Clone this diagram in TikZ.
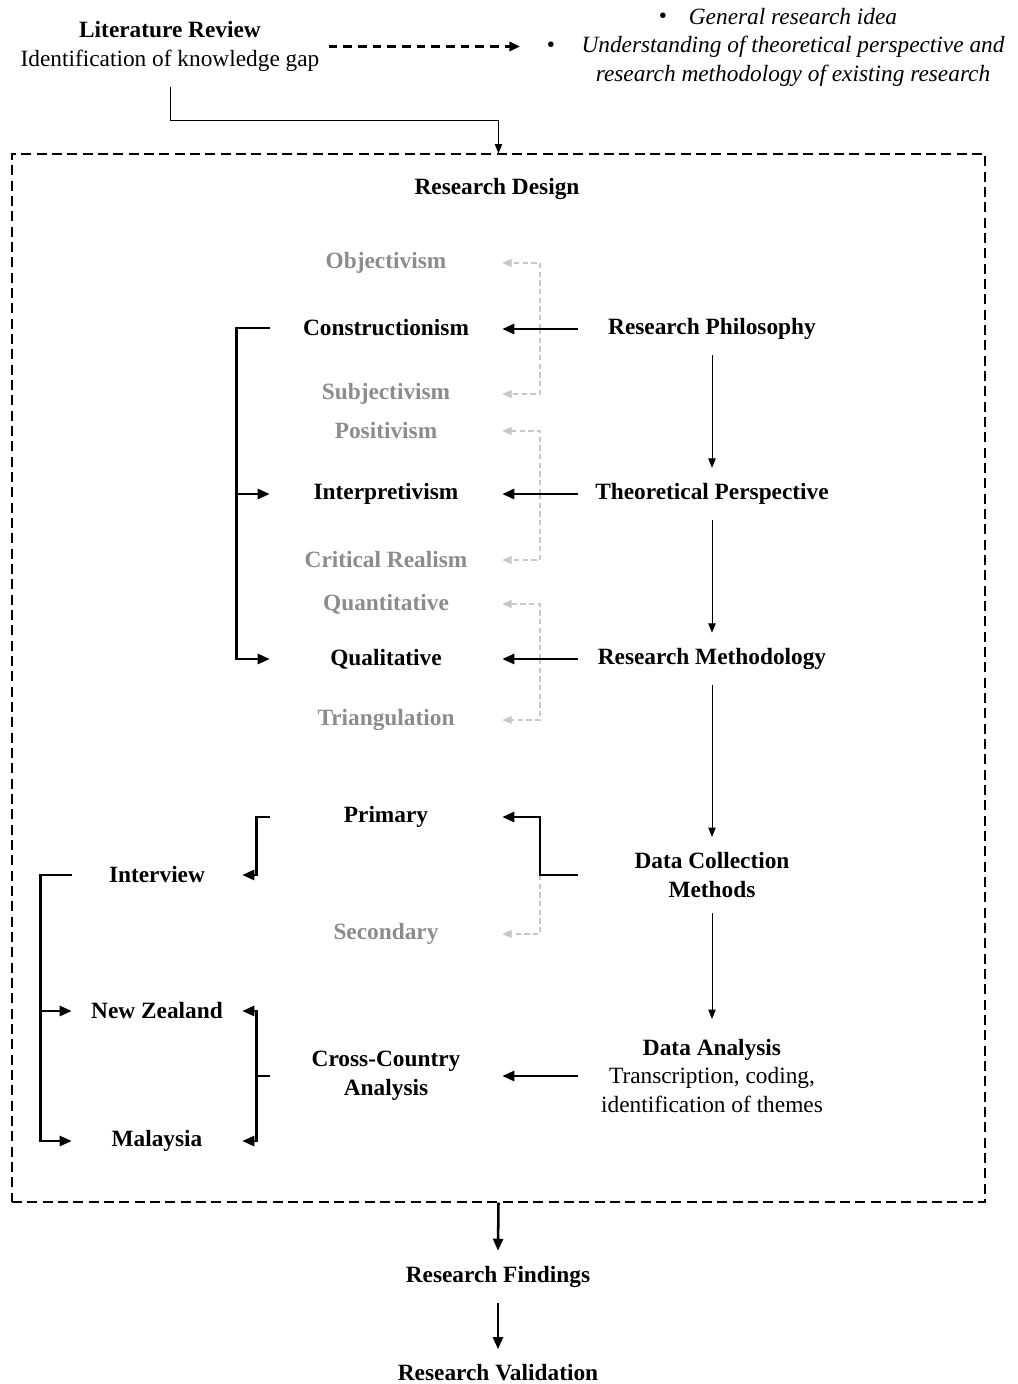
\documentclass[tikz,border=0pt]{standalone}
\usepackage{fontspec}
\setmainfont{Liberation Serif}
\usetikzlibrary{arrows.meta,calc}
\definecolor{fadetext}{RGB}{140,140,140}
\definecolor{fadeline}{RGB}{200,200,200}

\begin{document}
\begin{tikzpicture}[x=0.75pt,y=-0.75pt,
  txt/.style={font=\fontsize{17.5}{21.4}\selectfont, align=center, inner xsep=0pt, inner ysep=11.5pt},
  boldtxt/.style={txt, font=\fontsize{17.5}{21.4}\selectfont\bfseries},
  lcol/.style={boldtxt, minimum width=174pt},
  faded/.style={lcol, text=fadetext},
  rcol/.style={boldtxt, minimum width=201pt},
  side/.style={boldtxt, minimum width=127.5pt},
  thickarr/.style={line width=1.9pt, -{Triangle[length=9pt,width=7.5pt]}},
  thickline/.style={line width=1.9pt},
  thinarr/.style={line width=0.75pt, -{Triangle[length=7pt,width=5.5pt]}},
  fadearr/.style={draw=fadeline, line width=0.8pt, dash pattern=on 4pt off 2.5pt,
    -{Triangle[length=7pt,width=6pt,fill=fadeline]}},
]
\useasboundingbox (0,0) rectangle (1017,1384);

% literature review and its outcomes
\node[txt, inner xsep=6.75pt] (lit) at (170,46.5)
  {\textbf{Literature Review}\\Identification of knowledge gap};
\node[txt, font=\fontsize{17.5}{21.4}\selectfont\itshape, inner sep=0pt] (ideas) at (793,47)
  {General research idea\\Understanding of theoretical perspective and\\research methodology of existing research};
\node[txt, inner sep=0pt] (b1) at (663,18) {\textbullet};
\node[txt, inner sep=0pt] (b2) at (551,47) {\textbullet};

% research design frame
\node[draw, dash pattern=on 7.5pt off 4pt, line width=0.9pt, inner sep=0pt,
  minimum width=729.75pt, minimum height=786pt] (design) at (498.5,678) {};
\node[boldtxt] (title) at (497,189) {Research Design};

% main sequence
\node[rcol] (rp) at (712,329) {Research Philosophy};
\node[rcol] (tp) at (712,494) {Theoretical Perspective};
\node[rcol] (rm) at (712,659) {Research Methodology};
\node[rcol] (dcm) at (712,875) {Data Collection\\Methods};
\node[rcol] (da) at (712,1076) {Data Analysis\\\mdseries Transcription, coding,\\\mdseries identification of themes};

% options
\node[faded] (obj) at (386,263) {Objectivism};
\node[lcol] (cons) at (386,328) {Constructionism};
\node[faded] (subj) at (386,394) {Subjectivism};
\node[faded] (pos) at (386,431) {Positivism};
\node[lcol] (interp) at (386,494) {Interpretivism};
\node[faded] (crit) at (386,560) {Critical Realism};
\node[faded] (quant) at (386,604) {Quantitative};
\node[lcol] (qual) at (386,659) {Qualitative};
\node[faded] (tri) at (386,720) {Triangulation};
\node[lcol] (prim) at (386,817) {Primary};
\node[faded] (sec) at (386,934) {Secondary};
\node[lcol] (cc) at (386,1076) {Cross-Country\\Analysis};

\node[side] (int) at (157,875) {Interview};
\node[side] (nz) at (157,1011) {New Zealand};
\node[side] (mal) at (157,1141) {Malaysia};

\node[boldtxt] (find) at (498,1277) {Research Findings};
\node[boldtxt] (val) at (498,1373) {Research Validation};

% junction points
\coordinate (j1) at ($(rp.west)!0.5!(rp.west -| cons.east)$);
\coordinate (j2) at ($(tp.west)!0.5!(tp.west -| interp.east)$);
\coordinate (j3) at ($(rm.west)!0.5!(rm.west -| qual.east)$);
\coordinate (j4) at ($(dcm.west)!0.5!(dcm.west -| prim.east)$);
\coordinate (lb) at ($(cons.west)+(-33,0)$);
\coordinate (pb) at ($(prim.west)+(-13,0)$);
\coordinate (ib) at ($(int.west)+(-31,0)$);
\coordinate (cb) at ($(cc.west)+(-13,0)$);

% options not chosen
\draw[fadearr] (j1) |- (obj.east);
\draw[fadearr] (j1) |- (subj.east);
\draw[fadearr] (j2) |- (pos.east);
\draw[fadearr] (j2) |- (crit.east);
\draw[fadearr] (j3) |- (quant.east);
\draw[fadearr] (j3) |- (tri.east);
\draw[fadearr] (j4) |- (sec.east);

% chosen options
\draw[thickarr] (rp.west) -- (rp.west -| cons.east);
\draw[thickarr] (tp.west) -- (tp.west -| interp.east);
\draw[thickarr] (rm.west) -- (rm.west -| qual.east);
\draw[thickarr] (dcm.west) -- (j4) |- (prim.east);
\draw[thickarr] (da.west) -- (da.west -| cc.east);

% sequence arrows
\draw[thinarr] (rp.south) -- (tp.north);
\draw[thinarr] (tp.south) -- (rm.north);
\draw[thinarr] (rm.south) -- (dcm.north);
\draw[thinarr, shorten >=3.5pt] (dcm.south) -- (da.north);

% brackets
\draw[thickarr] (cons.west) -- (lb) |- (qual.west);
\draw[thickarr] (lb) |- (interp.west);
\draw[thickarr] (prim.west) -- (pb) |- (int.east);
\draw[thickarr] (int.west) -- (ib) |- (mal.west);
\draw[thickarr] (ib) |- (nz.west);
\draw[thickline] (cc.west) -- (cb);
\draw[thickarr] (cb) |- (nz.east);
\draw[thickarr] (cb) |- (mal.east);

% top connections
\draw[line width=1.9pt, dash pattern=on 6.5pt off 4.5pt, shorten >=20pt,
  -{Triangle[length=8pt,width=7pt]}] (lit.east) -- (lit.east -| b2.west);
\draw[thinarr] (lit.south) -- ++(0,34) -| (design.north);

% results
\draw[thickarr] (design.south) -- (find.north);
\draw[thickarr] (find.south) -- (val.north);
\end{tikzpicture}
\end{document}
